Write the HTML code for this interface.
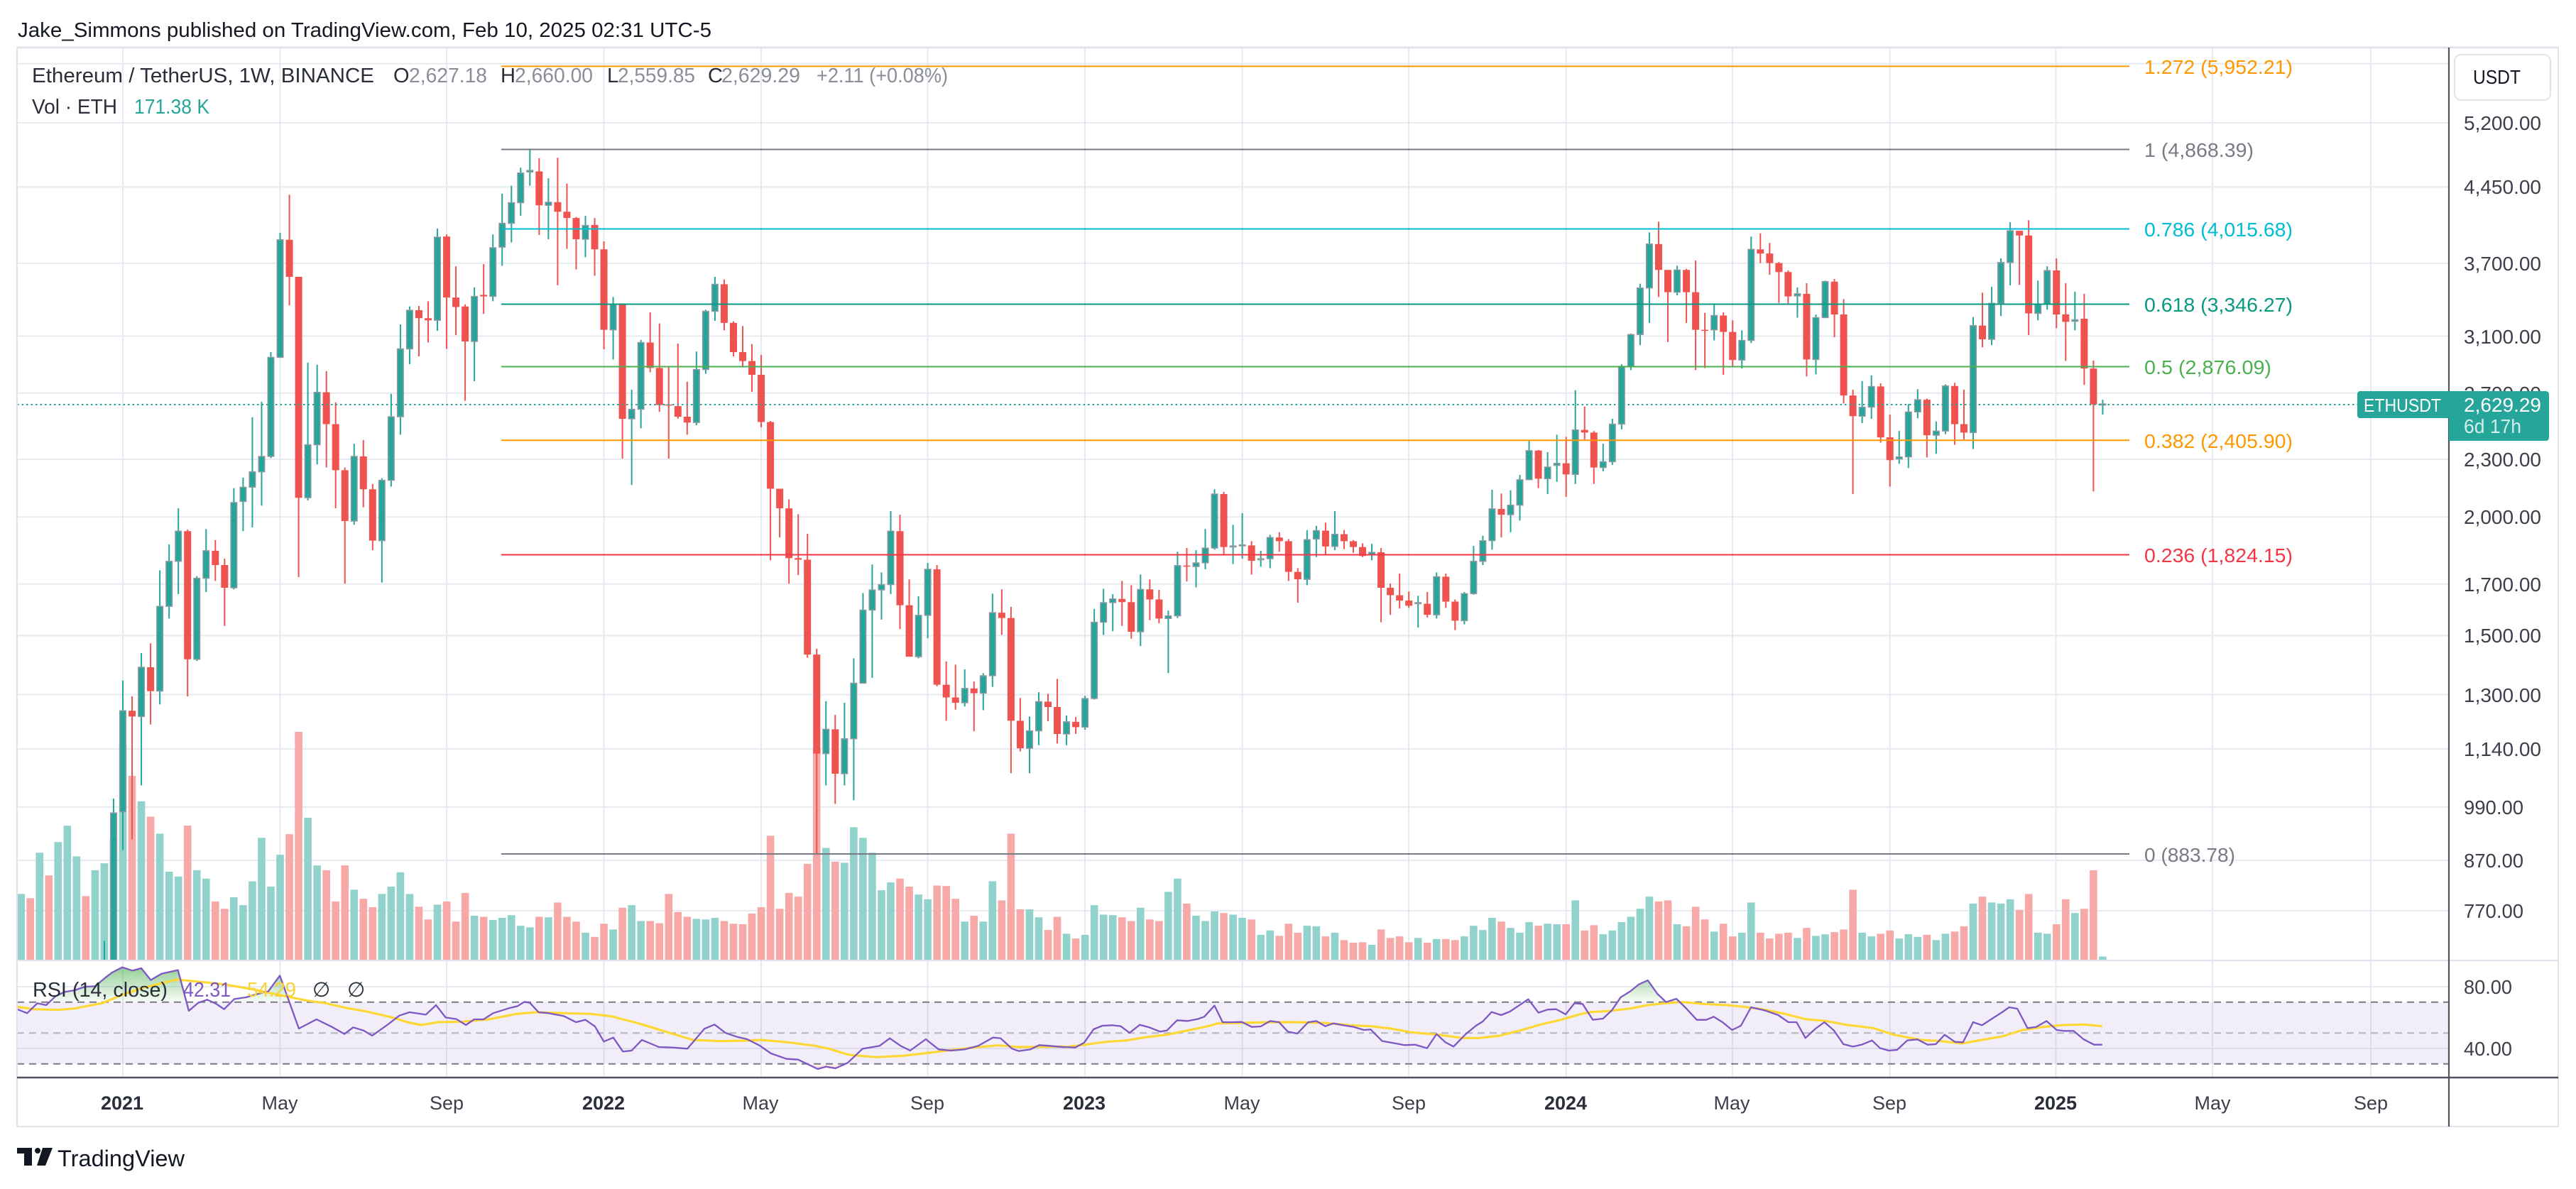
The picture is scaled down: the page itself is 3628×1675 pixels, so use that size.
<!DOCTYPE html>
<html><head><meta charset="utf-8"><style>
html,body{margin:0;padding:0;background:#fff;}
svg{display:block;}
text{font-family:"Liberation Sans",Arial,"DejaVu Sans",sans-serif;}
</style></head><body>
<svg width="3628" height="1675" viewBox="0 0 3628 1675" xmlns="http://www.w3.org/2000/svg">
<defs>
 <clipPath id="mainClip"><rect x="24" y="68" width="3425" height="1285"/></clipPath>
 <clipPath id="rsiClip"><rect x="24" y="1354" width="3425" height="163"/></clipPath>
 <clipPath id="obClip"><rect x="24" y="1354" width="3425" height="57.75"/></clipPath>
 <clipPath id="osClip"><rect x="24" y="1498.75" width="3425" height="19"/></clipPath>
 <linearGradient id="gOB9" x1="0" y1="30" x2="0" y2="216" gradientUnits="userSpaceOnUse"><stop offset="0" stop-color="#4caf50" stop-opacity="0.75"/><stop offset="1" stop-color="#4caf50" stop-opacity="0.03"/></linearGradient>
 <linearGradient id="gOB10" x1="0" y1="15" x2="0" y2="201" gradientUnits="userSpaceOnUse"><stop offset="0" stop-color="#4caf50" stop-opacity="0.75"/><stop offset="1" stop-color="#4caf50" stop-opacity="0.03"/></linearGradient>
 <linearGradient id="gOS9" x1="0" y1="477" x2="0" y2="534" gradientUnits="userSpaceOnUse"><stop offset="0" stop-color="#f23645" stop-opacity="0.04"/><stop offset="1" stop-color="#f23645" stop-opacity="0.6"/></linearGradient>
</defs>
<rect width="3628" height="1675" fill="#ffffff"/>

<text x="25" y="52" font-size="29" fill="#131722" textLength="977" lengthAdjust="spacingAndGlyphs">Jake_Simmons published on TradingView.com, Feb 10, 2025 02:31 UTC-5</text>

<!-- grid -->
<g stroke="#e6eaf1" stroke-width="2">
 <line x1="24" x2="3449" y1="89.8" y2="89.8"/>
 <line x1="24" x2="3449" y1="173" y2="173"/>
 <line x1="24" x2="3449" y1="263.4" y2="263.4"/>
 <line x1="24" x2="3449" y1="370.8" y2="370.8"/>
 <line x1="24" x2="3449" y1="473.5" y2="473.5"/>
 <line x1="24" x2="3449" y1="553.8" y2="553.8"/>
 <line x1="24" x2="3449" y1="647" y2="647"/>
 <line x1="24" x2="3449" y1="728.3" y2="728.3"/>
 <line x1="24" x2="3449" y1="822.7" y2="822.7"/>
 <line x1="24" x2="3449" y1="895.4" y2="895.4"/>
 <line x1="24" x2="3449" y1="978.6" y2="978.6"/>
 <line x1="24" x2="3449" y1="1054.9" y2="1054.9"/>
 <line x1="24" x2="3449" y1="1136.9" y2="1136.9"/>
 <line x1="24" x2="3449" y1="1211.9" y2="1211.9"/>
 <line x1="24" x2="3449" y1="1282.9" y2="1282.9"/>
 <line x1="24" x2="3449" y1="1390" y2="1390"/>
 <line x1="24" x2="3449" y1="1477" y2="1477"/>
 <line y1="68" y2="1518" x1="173" x2="173"/>
 <line y1="68" y2="1518" x1="394.5" x2="394.5"/>
 <line y1="68" y2="1518" x1="629" x2="629"/>
 <line y1="68" y2="1518" x1="850.6" x2="850.6"/>
 <line y1="68" y2="1518" x1="1072" x2="1072"/>
 <line y1="68" y2="1518" x1="1306.6" x2="1306.6"/>
 <line y1="68" y2="1518" x1="1528" x2="1528"/>
 <line y1="68" y2="1518" x1="1749.6" x2="1749.6"/>
 <line y1="68" y2="1518" x1="1984" x2="1984"/>
 <line y1="68" y2="1518" x1="2205.7" x2="2205.7"/>
 <line y1="68" y2="1518" x1="2440" x2="2440"/>
 <line y1="68" y2="1518" x1="2661.7" x2="2661.7"/>
 <line y1="68" y2="1518" x1="2895.5" x2="2895.5"/>
 <line y1="68" y2="1518" x1="3116" x2="3116"/>
 <line y1="68" y2="1518" x1="3339" x2="3339"/>
</g>

<!-- RSI band -->
<rect x="24" y="1411.75" width="3425" height="87" fill="#7e57c2" fill-opacity="0.1"/>
<g stroke-width="2" stroke-dasharray="10 7">
 <line x1="24" x2="3449" y1="1411.75" y2="1411.75" stroke="#787b86"/>
 <line x1="24" x2="3449" y1="1455.25" y2="1455.25" stroke="#b2b5be"/>
 <line x1="24" x2="3449" y1="1498.75" y2="1498.75" stroke="#787b86"/>
</g>

<!-- volume + candles -->
<g clip-path="url(#mainClip)">
<g transform="matrix(13.03 0 0 0.746269 173 190)" fill="none">
<path vector-effect="non-scaling-stroke" stroke="#92d2cc" stroke-width="10.6" d="M-11 1433V1560M-9 1355V1560M-7 1335V1560M-6 1304V1560M-5 1362V1560M-3 1388V1560M-2 1375V1560M-1 1328V1560M0 1150V1560M2 1258V1560M4 1319V1560M5 1391V1560M6 1400V1560M8 1388V1560M9 1404V1560M12 1439V1560M13 1454V1560M14 1409V1560M15 1327V1560M16 1419V1560M17 1359V1560M20 1289V1560M21 1379V1560M25 1425V1560M28 1433V1560M29 1419V1560M30 1392V1560M31 1433V1560M34 1453V1560M38 1474V1560M40 1482V1560M41 1478V1560M42 1473V1560M43 1493V1560M44 1496V1560M46 1477V1560M50 1506V1560M53 1500V1560M55 1454V1560M56 1484V1560M62 1480V1560M63 1481V1560M64 1478V1560M76 1346V1560M78 1374V1560M79 1307V1560M80 1327V1560M81 1355V1560M82 1426V1560M83 1411V1560M86 1434V1560M87 1443V1560M91 1485V1560M93 1485V1560M94 1409V1560M98 1462V1560M99 1477V1560M102 1508V1560M104 1510V1560M105 1454V1560M106 1472V1560M107 1473V1560M110 1459V1560M113 1429V1560M114 1404V1560M116 1474V1560M117 1484V1560M118 1466V1560M120 1472V1560M121 1478V1560M123 1510V1560M124 1502V1560M128 1493V1560M129 1494V1560M131 1506V1560M135 1529V1560M140 1516V1560M142 1518V1560M145 1513V1560M146 1493V1560M147 1501V1560M148 1478V1560M150 1497V1560M151 1506V1560M152 1486V1560M154 1489V1560M155 1490V1560M157 1445V1560M160 1509V1560M161 1502V1560M162 1486V1560M163 1476V1560M164 1461V1560M165 1438V1560M168 1490V1560M172 1504V1560M175 1506V1560M176 1449V1560M181 1516V1560M183 1512V1560M184 1509V1560M188 1506V1560M189 1513V1560M192 1517V1560M193 1509V1560M194 1514V1560M196 1520V1560M197 1508V1560M200 1451V1560M202 1449V1560M203 1451V1560M204 1443V1560M207 1506V1560M208 1508V1560M211 1469V1560M214 1551V1560"/>
<path vector-effect="non-scaling-stroke" stroke="#f7a9a7" stroke-width="10.6" d="M-10 1441V1560M-8 1398V1560M-4 1437V1560M1 1210V1560M3 1287V1560M7 1304V1560M10 1447V1560M11 1461V1560M18 1320V1560M19 1127V1560M22 1388V1560M23 1447V1560M24 1379V1560M26 1442V1560M27 1458V1560M32 1457V1560M33 1481V1560M35 1447V1560M36 1485V1560M37 1431V1560M39 1476V1560M45 1476V1560M47 1449V1560M48 1476V1560M49 1485V1560M51 1514V1560M52 1489V1560M54 1459V1560M57 1484V1560M58 1488V1560M59 1433V1560M60 1467V1560M61 1476V1560M65 1484V1560M66 1489V1560M67 1490V1560M68 1470V1560M69 1458V1560M70 1323V1560M71 1461V1560M72 1431V1560M73 1438V1560M74 1376V1560M75 1158V1560M77 1372V1560M84 1404V1560M85 1419V1560M88 1417V1560M89 1418V1560M90 1442V1560M92 1474V1560M95 1445V1560M96 1319V1560M97 1462V1560M100 1501V1560M101 1476V1560M103 1517V1560M108 1477V1560M109 1484V1560M111 1481V1560M112 1484V1560M115 1451V1560M119 1469V1560M122 1481V1560M125 1512V1560M126 1489V1560M127 1506V1560M130 1513V1560M132 1520V1560M133 1525V1560M134 1524V1560M136 1500V1560M137 1516V1560M138 1513V1560M139 1524V1560M141 1525V1560M143 1518V1560M144 1520V1560M149 1485V1560M153 1493V1560M156 1490V1560M158 1502V1560M159 1492V1560M166 1447V1560M167 1445V1560M169 1494V1560M170 1457V1560M171 1481V1560M173 1489V1560M174 1513V1560M177 1506V1560M178 1517V1560M179 1508V1560M180 1506V1560M182 1497V1560M185 1505V1560M186 1500V1560M187 1425V1560M190 1508V1560M191 1502V1560M195 1510V1560M198 1504V1560M199 1494V1560M201 1438V1560M205 1463V1560M206 1433V1560M209 1490V1560M210 1443V1560M212 1461V1560M213 1388V1560"/>
<path vector-effect="non-scaling-stroke" stroke="#26a69a" stroke-width="2" d="M-2 1521V1600M-1 1253V1600M0 1030V1350M2 978V1228M4 822V1075M5 773V913M6 705V867M8 833V993M9 744V863M12 667V858M13 647V748M14 533V741M15 504V700M16 410V610M17 185V420M20 430V690M21 434V622M25 583V736M28 648V845M29 489V664M30 358V566M31 324V433M34 177V370M38 288V465M40 188V314M41 111V247M42 96V203M43 62V153M44 28V96M46 82V197M50 153V231M53 306V424M55 481V661M56 387V554M62 409V548M63 330V451M64 268V351M76 1069V1228M78 1072V1228M79 988V1256M80 865V1035M81 811V1025M82 826V915M83 710V867M86 871V988M87 808V950M91 1009V1079M93 1016V1086M94 866V1042M98 1098V1205M99 1052V1152M102 1096V1152M104 1059V1123M105 895V1066M106 857V944M107 867V937M110 830V965M113 898V1016M114 787V912M116 784V854M117 744V820M118 669V783M120 736V810M121 714V800M123 785V815M124 755V818M128 746V850M129 738V797M131 710V784M135 772V803M140 870V930M142 826V913M145 863V924M146 776V868M147 757V812M148 670V783M150 671V750M151 642V728M152 578V651M154 599V678M155 566V655M157 482V659M160 583V635M161 536V623M162 433V556M163 375V444M164 281V397M165 184V355M168 247V303M172 318V388M175 369V441M176 192V393M181 288V345M183 339V452M184 275V346M188 465V544M189 454V536M192 559V621M193 508V629M194 480V535M196 541V602M197 471V565M200 344V593M202 287V397M203 233V342M204 165V284M207 275V350M208 248V330M211 296V369M214 500V528"/>
<path vector-effect="non-scaling-stroke" stroke="#ef5350" stroke-width="2" d="M1 1060V1330M3 960V1113M7 745V1060M10 765V842M11 800V927M18 113V322M19 268V835M22 446V628M23 505V705M24 628V847M26 576V703M27 659V784M32 323V418M33 314V392M35 188V404M36 248V378M37 320V502M39 244V338M45 44V189M47 43V284M48 92V215M49 155V254M51 157V266M52 201V405M54 318V611M57 335V448M58 356V523M59 438V611M60 394V536M61 466V566M65 273V369M66 352V418M67 361V437M68 395V485M69 415V552M70 540V803M71 668V760M72 688V847M73 716V831M74 753V987M75 970V1357M77 1095V1263M84 717V933M85 839V985M88 812V1041M89 994V1106M90 1000V1085M92 1032V1126M95 858V944M96 891V1205M97 1063V1164M100 1055V1107M101 1027V1149M103 1099V1131M108 842V927M109 850V951M111 839V916M112 859V922M115 780V843M119 674V792M122 767V830M125 750V787M126 763V842M127 818V883M130 732V792M132 746V782M133 765V789M134 771V797M136 780V920M137 847V906M138 828V894M139 862V893M141 863V911M143 828V893M144 877V935M149 677V760M153 595V667M156 570V683M158 513V575M159 559V659M166 164V306M167 255V391M169 253V355M170 237V444M171 336V440M173 335V453M174 350V437M177 186V242M178 204V264M179 240V317M180 256V318M182 280V456M185 272V382M186 310V507M187 481V678M190 469V581M191 528V664M195 498V609M198 468V585M199 481V575M201 298V401M205 181V283M206 161V378M209 233V365M210 280V427M212 300V472M213 426V673"/>
<path vector-effect="non-scaling-stroke" stroke="#ef5350" stroke-width="10" d="M1 1087V1098M3 1005V1050M7 748V990M10 785V812M11 812V855M18 198V268M19 268V685M22 486V546M23 546V633M24 633V729M26 607V669M27 669V766M32 331V346M33 346V350M35 192V307M36 307V325M37 324V390M39 302V305M45 69V133M47 127V145M48 145V157M49 157V197M51 170V216M52 216V368M54 320V536M57 392V440M58 440V510M59 509V511M60 512V532M61 532V543M65 282V355M66 355V410M67 410V427M68 427V453M69 453V542M70 542V668M71 668V705M72 705V799M73 799V802M74 802V981M75 981V1168M77 1122V1206M84 748V888M85 888V985M88 820V1038M89 1038V1062M90 1062V1072M92 1045V1054M95 902V912M96 912V1106M97 1106V1158M100 1070V1080M101 1080V1131M103 1108V1118M108 876V882M109 882V938M111 858V877M112 877V913M115 813V815M119 678V778M122 775V804M125 760V767M126 767V825M127 825V839M130 747V777M132 754V767M133 767V778M134 778V795M136 788V855M137 855V869M138 869V879M139 879V889M141 885V906M143 834V881M144 881V917M149 706V717M153 596V649M156 620V641M158 557V562M159 562V628M166 206V255M167 255V297M169 255V297M170 297V368M171 368V370M173 341V372M174 372V425M177 216V224M178 224V242M179 242V259M180 259V305M182 300V424M185 277V339M186 339V492M187 492V531M190 475V571M191 571V614M195 500V567M198 474V546M199 546V562M201 360V386M205 181V190M206 190V337M209 256V339M210 339V353M212 347V441M213 441V509"/>
<path vector-effect="non-scaling-stroke" fill="#26a69a" stroke="#9598a1" stroke-width="1.4" d="M-1 1280m-.33 0h.66V1562h-.66zM0 1087m-.33 0h.66V1278h-.66zM2 1005m-.33 0h.66V1098h-.66zM4 890m-.33 0h.66V1050h-.66zM5 805m-.33 0h.66V890h-.66zM6 748m-.33 0h.66V805h-.66zM8 837m-.33 0h.66V990h-.66zM9 785m-.33 0h.66V837h-.66zM12 694m-.33 0h.66V855h-.66zM13 665m-.33 0h.66V692h-.66zM14 636m-.33 0h.66V665h-.66zM15 607m-.33 0h.66V636h-.66zM16 420m-.33 0h.66V607h-.66zM17 198m-.33 0h.66V420h-.66zM20 585m-.33 0h.66V685h-.66zM21 486m-.33 0h.66V585h-.66zM25 607m-.33 0h.66V729h-.66zM28 652m-.33 0h.66V766h-.66zM29 532m-.33 0h.66V652h-.66zM30 404m-.33 0h.66V532h-.66zM31 331m-.33 0h.66V404h-.66zM34 193m-.33 0h.66V350h-.66zM38 305m-.33 0h.66V390h-.66zM40 213m-.33 0h.66V305h-.66zM41 167m-.33 0h.66V212h-.66zM42 128m-.33 0h.66V167h-.66zM43 72m-.33 0h.66V128h-.66zM44 67m-.33 0h.66V70h-.66zM46 127m-.33 0h.66V133h-.66zM50 171m-.33 0h.66V197h-.66zM53 320m-.33 0h.66V368h-.66zM55 518m-.33 0h.66V536h-.66zM56 392m-.33 0h.66V518h-.66zM62 443m-.33 0h.66V543h-.66zM63 333m-.33 0h.66V443h-.66zM64 282m-.33 0h.66V333h-.66zM76 1122m-.33 0h.66V1168h-.66zM78 1140m-.33 0h.66V1206h-.66zM79 1035m-.33 0h.66V1140h-.66zM80 897m-.33 0h.66V1035h-.66zM81 859m-.33 0h.66V897h-.66zM82 849m-.33 0h.66V859h-.66zM83 748m-.33 0h.66V849h-.66zM86 907m-.33 0h.66V985h-.66zM87 820m-.33 0h.66V907h-.66zM91 1045m-.33 0h.66V1072h-.66zM93 1021m-.33 0h.66V1054h-.66zM94 902m-.33 0h.66V1021h-.66zM98 1125m-.33 0h.66V1158h-.66zM99 1070m-.33 0h.66V1125h-.66zM102 1108m-.33 0h.66V1131h-.66zM104 1064m-.33 0h.66V1118h-.66zM105 920m-.33 0h.66V1064h-.66zM106 883m-.33 0h.66V920h-.66zM107 876m-.33 0h.66V883h-.66zM110 858m-.33 0h.66V938h-.66zM113 908m-.33 0h.66V913h-.66zM114 813m-.33 0h.66V908h-.66zM116 808m-.33 0h.66V815h-.66zM117 780m-.33 0h.66V808h-.66zM118 678m-.33 0h.66V780h-.66zM120 776m-.33 0h.66V778h-.66zM121 774m-.33 0h.66V776h-.66zM123 800m-.33 0h.66V802h-.66zM124 760m-.33 0h.66V800h-.66zM128 764m-.33 0h.66V839h-.66zM129 747m-.33 0h.66V763h-.66zM131 754m-.33 0h.66V777h-.66zM135 788m-.33 0h.66V792h-.66zM140 883m-.33 0h.66V885h-.66zM142 834m-.33 0h.66V906h-.66zM145 866m-.33 0h.66V917h-.66zM146 805m-.33 0h.66V866h-.66zM147 766m-.33 0h.66V805h-.66zM148 706m-.33 0h.66V766h-.66zM150 699m-.33 0h.66V717h-.66zM151 651m-.33 0h.66V699h-.66zM152 596m-.33 0h.66V651h-.66zM154 627m-.33 0h.66V649h-.66zM155 620m-.33 0h.66V624h-.66zM157 557m-.33 0h.66V641h-.66zM160 617m-.33 0h.66V628h-.66zM161 546m-.33 0h.66V617h-.66zM162 437m-.33 0h.66V546h-.66zM163 377m-.33 0h.66V437h-.66zM164 289m-.33 0h.66V377h-.66zM165 206m-.33 0h.66V289h-.66zM168 255m-.33 0h.66V297h-.66zM172 341m-.33 0h.66V368h-.66zM175 388m-.33 0h.66V425h-.66zM176 216m-.33 0h.66V388h-.66zM181 300m-.33 0h.66V304h-.66zM183 345m-.33 0h.66V424h-.66zM184 277m-.33 0h.66V345h-.66zM188 514m-.33 0h.66V531h-.66zM189 475m-.33 0h.66V514h-.66zM192 608m-.33 0h.66V612h-.66zM193 523m-.33 0h.66V608h-.66zM194 500m-.33 0h.66V523h-.66zM196 559m-.33 0h.66V567h-.66zM197 474m-.33 0h.66V559h-.66zM200 360m-.33 0h.66V562h-.66zM202 318m-.33 0h.66V386h-.66zM203 241m-.33 0h.66V318h-.66zM204 181m-.33 0h.66V241h-.66zM207 320m-.33 0h.66V337h-.66zM208 256m-.33 0h.66V320h-.66zM211 349m-.33 0h.66V352h-.66zM214 508m-.33 0h.66V510h-.66z"/>
</g>
</g>

<!-- fib lines -->
<g stroke-width="2">
 <line x1="706" x2="2999" y1="93.4" y2="93.4" stroke="#ff9800"/>
 <line x1="706" x2="2999" y1="210.5" y2="210.5" stroke="#787b86"/>
 <line x1="706" x2="2999" y1="322.5" y2="322.5" stroke="#00bcd4"/>
 <line x1="706" x2="2999" y1="428.5" y2="428.5" stroke="#089981"/>
 <line x1="706" x2="2999" y1="516.5" y2="516.5" stroke="#4caf50"/>
 <line x1="706" x2="2999" y1="620.3" y2="620.3" stroke="#ff9800"/>
 <line x1="706" x2="2999" y1="781.5" y2="781.5" stroke="#f23645"/>
 <line x1="706" x2="2999" y1="1203" y2="1203" stroke="#787b86"/>
</g>
<g font-size="28">
 <text x="3020" y="104" fill="#ff9800" textLength="209" lengthAdjust="spacingAndGlyphs">1.272 (5,952.21)</text>
 <text x="3020" y="221" fill="#787b86" textLength="154" lengthAdjust="spacingAndGlyphs">1 (4,868.39)</text>
 <text x="3020" y="333" fill="#00bcd4" textLength="209" lengthAdjust="spacingAndGlyphs">0.786 (4,015.68)</text>
 <text x="3020" y="439" fill="#089981" textLength="209" lengthAdjust="spacingAndGlyphs">0.618 (3,346.27)</text>
 <text x="3020" y="527" fill="#4caf50" textLength="179" lengthAdjust="spacingAndGlyphs">0.5 (2,876.09)</text>
 <text x="3020" y="631" fill="#ff9800" textLength="209" lengthAdjust="spacingAndGlyphs">0.382 (2,405.90)</text>
 <text x="3020" y="792" fill="#f23645" textLength="209" lengthAdjust="spacingAndGlyphs">0.236 (1,824.15)</text>
 <text x="3020" y="1214" fill="#787b86" textLength="128" lengthAdjust="spacingAndGlyphs">0 (883.78)</text>
</g>

<line x1="24" x2="3320" y1="570" y2="570" stroke="#26a69a" stroke-width="2" stroke-dasharray="2.5 4"/>

<!-- RSI -->
<g clip-path="url(#rsiClip)">
 <g clip-path="url(#obClip)">
  <polygon fill="url(#gOB9)" transform="matrix(0.9566 0 0 0.33333 0 1340)" points="25,215 25,245 40,262 55,220 68,228 82,190 95,172 110,165 125,150 140,148 155,112 165,90 180,68 195,82 208,72 222,122 238,95 262,80 278,252 292,218 305,205 318,222 330,245 345,202 362,195 378,182 395,170 412,103 440,327 466,288 490,322 507,350 520,322 535,335 548,357 570,312 588,272 603,258 627,268 642,228 656,280 672,287 686,312 698,288 712,288 726,262 748,242 762,232 772,214 780,218 793,258 808,262 830,274 848,300 1568,215"/>
  <polygon fill="url(#gOB10)" transform="matrix(0.9566 0 0 0.33333 1500 1345)" points="600,200 605,300 615,282 628,242 642,255 655,240 668,215 682,188 697,245 710,232 723,230 737,252 750,205 762,208 777,275 792,270 805,235 818,180 832,155 845,125 858,108 872,165 885,200 900,186 914,225 930,275 1000,200"/>
 </g>
 <g clip-path="url(#osClip)">
  <polygon fill="url(#gOS9)" transform="matrix(0.9566 0 0 0.33333 0 1340)" points="1135,473 1135,432 1158,455 1175,458 1204,498 1216,488 1230,495 1248,472 1270,412 1270,473"/>
 </g>
 <polyline fill="none" stroke="#fdd835" stroke-width="3.2" stroke-linejoin="round" vector-effect="non-scaling-stroke" transform="matrix(0.9566 0 0 0.33333 0 1340)" points="25,235 50,245 85,248 110,242 150,220 180,185 210,155 260,120 290,128 330,140 370,160 420,190 450,208 480,220 510,240 540,255 575,278 600,300 620,312 645,300 680,298 720,288 760,265 790,258 830,262 870,265 900,275 940,305 980,340 1020,375 1060,380 1100,378 1120,375 1160,385 1200,400 1220,412 1250,438 1290,448 1330,442 1360,432 1400,418 1440,405 1470,398 1500,405 1568,403"/>
 <polyline fill="none" stroke="#fdd835" stroke-width="3.2" stroke-linejoin="round" vector-effect="non-scaling-stroke" transform="matrix(0.9566 0 0 0.33333 1500 1345)" points="0,390 30,380 60,368 90,362 120,348 150,338 180,320 210,302 225,290 260,288 300,285 340,285 380,288 420,298 450,302 480,312 510,328 550,338 585,352 610,352 640,342 670,320 700,295 730,275 760,250 775,242 800,238 830,228 860,212 890,203 910,200 940,208 970,212 1000,220 1030,232 1060,250 1090,272 1120,280 1150,296 1190,310 1220,338 1260,360 1290,365 1320,375 1350,360 1380,345 1410,318 1440,305 1470,297 1500,295 1520,300 1527,302"/>
 <polyline fill="none" stroke="#7e57c2" stroke-width="2.3" stroke-linejoin="round" vector-effect="non-scaling-stroke" transform="matrix(0.9566 0 0 0.33333 0 1340)" points="25,245 40,262 55,220 68,228 82,190 95,172 110,165 125,150 140,148 155,112 165,90 180,68 195,82 208,72 222,122 238,95 262,80 278,252 292,218 305,205 318,222 330,245 345,202 362,195 378,182 395,170 412,103 440,327 466,288 490,322 507,350 520,322 535,335 548,357 570,312 588,272 603,258 627,268 642,228 656,280 672,287 686,312 698,288 712,288 726,262 748,242 762,232 772,214 780,218 793,258 808,262 830,274 848,300 862,290 876,318 889,382 903,365 917,424 930,420 945,375 970,405 990,407 1012,412 1037,328 1052,310 1068,345 1085,362 1100,372 1118,398 1135,432 1158,455 1175,458 1204,498 1216,488 1230,495 1248,472 1270,412 1295,400 1310,368 1326,400 1340,420 1363,372 1382,415 1400,420 1420,415 1440,400 1462,365 1473,368 1490,412 1500,422 1517,415 1530,397 1545,400 1568,406"/>
 <polyline fill="none" stroke="#7e57c2" stroke-width="2.3" stroke-linejoin="round" vector-effect="non-scaling-stroke" transform="matrix(0.9566 0 0 0.33333 1500 1345)" points="0,390 15,392 28,372 42,315 55,300 70,298 82,302 95,330 110,296 125,308 140,325 150,320 165,277 180,280 195,272 205,262 220,215 232,285 245,285 260,284 275,305 288,303 302,280 315,285 328,325 342,333 358,285 370,280 383,302 395,290 410,298 425,305 440,318 450,316 467,365 485,374 500,382 515,380 533,395 547,335 560,370 572,388 590,335 605,300 615,282 628,242 642,255 655,240 668,215 682,188 697,245 710,232 723,230 737,252 750,205 762,208 777,275 792,270 805,235 818,180 832,155 845,125 858,108 872,165 885,200 900,186 914,225 930,275 944,275 955,262 968,285 982,318 995,300 1010,222 1030,235 1050,255 1065,285 1077,285 1090,352 1105,312 1118,285 1132,320 1146,378 1160,388 1173,380 1188,362 1200,395 1213,405 1225,402 1240,362 1255,358 1270,380 1282,378 1295,338 1310,368 1322,370 1337,285 1350,298 1365,270 1380,242 1390,222 1402,228 1417,310 1430,305 1445,280 1460,318 1472,322 1485,322 1500,358 1515,380 1527,380"/>
</g>

<!-- legend -->
<g font-size="29">
 <text x="45" y="116" fill="#2a2e39" textLength="482" lengthAdjust="spacingAndGlyphs">Ethereum / TetherUS, 1W, BINANCE</text>
 <text x="554" y="116" fill="#2a2e39">O</text>
 <text x="576" y="116" fill="#8a8e99" textLength="110" lengthAdjust="spacingAndGlyphs">2,627.18</text>
 <text x="705" y="116" fill="#2a2e39">H</text>
 <text x="725" y="116" fill="#8a8e99" textLength="110" lengthAdjust="spacingAndGlyphs">2,660.00</text>
 <text x="855" y="116" fill="#2a2e39">L</text>
 <text x="870" y="116" fill="#8a8e99" textLength="109" lengthAdjust="spacingAndGlyphs">2,559.85</text>
 <text x="997" y="116" fill="#2a2e39">C</text>
 <text x="1016" y="116" fill="#8a8e99" textLength="111" lengthAdjust="spacingAndGlyphs">2,629.29</text>
 <text x="1150" y="116" fill="#8a8e99" textLength="185" lengthAdjust="spacingAndGlyphs">+2.11 (+0.08%)</text>
 <text x="45" y="160" fill="#2a2e39" textLength="120" lengthAdjust="spacingAndGlyphs">Vol · ETH</text>
 <text x="189" y="160" fill="#26a69a" textLength="106" lengthAdjust="spacingAndGlyphs">171.38 K</text>
</g>
<g font-size="29">
 <text x="46" y="1404" fill="#2a2e39" textLength="190" lengthAdjust="spacingAndGlyphs">RSI (14, close)</text>
 <text x="258" y="1404" fill="#7e57c2" textLength="67" lengthAdjust="spacingAndGlyphs">42.31</text>
 <text x="348" y="1404" fill="#f7d23a" textLength="69" lengthAdjust="spacingAndGlyphs">54.29</text>
 <text x="440" y="1404" fill="#2a2e39">∅</text>
 <text x="489" y="1404" fill="#2a2e39">∅</text>
</g>

<!-- frame -->
<g stroke="#e0e3eb" stroke-width="2" fill="none">
 <line x1="23" x2="3604" y1="67" y2="67" stroke-width="3"/>
 <line x1="24" x2="24" y1="67" y2="1587"/>
 <line x1="3603" x2="3603" y1="67" y2="1587"/>
 <line x1="23" x2="3604" y1="1587" y2="1587"/>
 <line x1="24" x2="3603" y1="1353" y2="1353"/>
</g>
<line x1="3449" x2="3449" y1="67" y2="1587" stroke="#50535e" stroke-width="2.2"/>
<line x1="24" x2="3603" y1="1518" y2="1518" stroke="#50535e" stroke-width="2.5"/>

<!-- price axis -->
<g font-size="28" fill="#3c3f4a">
 <text x="3470" y="183" textLength="109" lengthAdjust="spacingAndGlyphs">5,200.00</text>
 <text x="3470" y="273" textLength="109" lengthAdjust="spacingAndGlyphs">4,450.00</text>
 <text x="3470" y="381" textLength="109" lengthAdjust="spacingAndGlyphs">3,700.00</text>
 <text x="3470" y="484" textLength="109" lengthAdjust="spacingAndGlyphs">3,100.00</text>
 <text x="3470" y="564" textLength="109" lengthAdjust="spacingAndGlyphs">2,700.00</text>
 <text x="3470" y="657" textLength="109" lengthAdjust="spacingAndGlyphs">2,300.00</text>
 <text x="3470" y="738" textLength="109" lengthAdjust="spacingAndGlyphs">2,000.00</text>
 <text x="3470" y="833" textLength="109" lengthAdjust="spacingAndGlyphs">1,700.00</text>
 <text x="3470" y="905" textLength="109" lengthAdjust="spacingAndGlyphs">1,500.00</text>
 <text x="3470" y="989" textLength="109" lengthAdjust="spacingAndGlyphs">1,300.00</text>
 <text x="3470" y="1065" textLength="109" lengthAdjust="spacingAndGlyphs">1,140.00</text>
 <text x="3470" y="1147" textLength="84" lengthAdjust="spacingAndGlyphs">990.00</text>
 <text x="3470" y="1222" textLength="84" lengthAdjust="spacingAndGlyphs">870.00</text>
 <text x="3470" y="1293" textLength="84" lengthAdjust="spacingAndGlyphs">770.00</text>
 <text x="3470" y="1400" textLength="68" lengthAdjust="spacingAndGlyphs">80.00</text>
 <text x="3470" y="1487" textLength="68" lengthAdjust="spacingAndGlyphs">40.00</text>
</g>

<rect x="3457" y="77" width="135" height="64" rx="9" fill="#ffffff" stroke="#e0e3eb" stroke-width="2"/>
<text x="3483" y="118" font-size="28" fill="#131722" textLength="67" lengthAdjust="spacingAndGlyphs">USDT</text>

<rect x="3320" y="551" width="132" height="38" rx="4" fill="#26a69a"/>
<text x="3329" y="580" font-size="26" fill="#ffffff" textLength="109" lengthAdjust="spacingAndGlyphs">ETHUSDT</text>
<path d="M3449 551 H3585 Q3590 551 3590 556 V616 Q3590 621 3585 621 H3449 Z" fill="#26a69a"/>
<text x="3470" y="580" font-size="28" fill="#ffffff" textLength="109" lengthAdjust="spacingAndGlyphs">2,629.29</text>
<text x="3470" y="610" font-size="28" fill="#ffffff" fill-opacity="0.8" textLength="81" lengthAdjust="spacingAndGlyphs">6d 17h</text>

<!-- time axis -->
<g font-size="27" fill="#3c3f4a" text-anchor="middle">
 <text x="172" y="1563" font-weight="bold" fill="#2a2e39">2021</text>
 <text x="394" y="1563">May</text>
 <text x="629" y="1563">Sep</text>
 <text x="850" y="1563" font-weight="bold" fill="#2a2e39">2022</text>
 <text x="1071" y="1563">May</text>
 <text x="1306" y="1563">Sep</text>
 <text x="1527" y="1563" font-weight="bold" fill="#2a2e39">2023</text>
 <text x="1749" y="1563">May</text>
 <text x="1984" y="1563">Sep</text>
 <text x="2205" y="1563" font-weight="bold" fill="#2a2e39">2024</text>
 <text x="2439" y="1563">May</text>
 <text x="2661" y="1563">Sep</text>
 <text x="2895" y="1563" font-weight="bold" fill="#2a2e39">2025</text>
 <text x="3116" y="1563">May</text>
 <text x="3339" y="1563">Sep</text>
</g>

<g fill="#131722">
 <rect x="24" y="1617" width="21" height="8"/>
 <rect x="34" y="1617" width="11" height="25"/>
 <circle cx="53" cy="1621" r="4"/>
 <path d="M60 1617 H74 L64 1642 H52 Z"/>
</g>
<text x="81" y="1643" font-size="32" fill="#131722" textLength="179" lengthAdjust="spacingAndGlyphs">TradingView</text>
</svg>
</body></html>
